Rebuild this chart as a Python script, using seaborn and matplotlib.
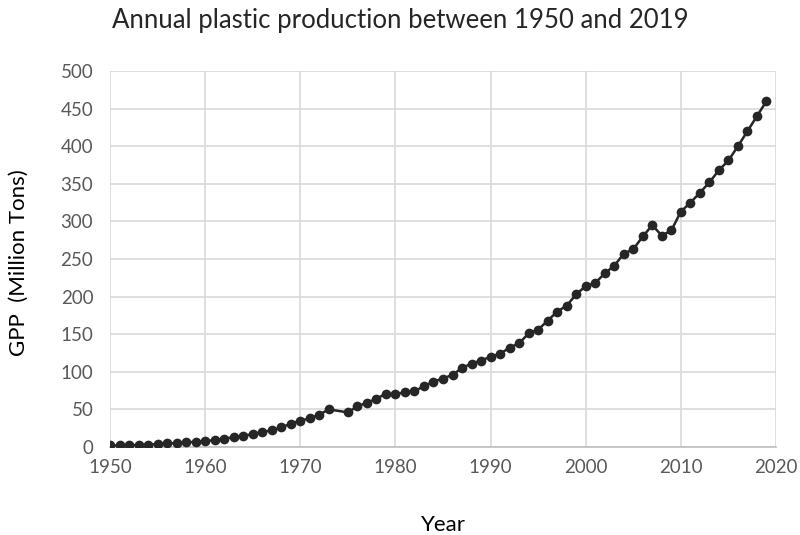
import numpy as np
import pandas as pd
import seaborn as sns
import matplotlib
matplotlib.use("Agg")
import matplotlib.pyplot as plt

# values (1974 has no point)
years = [1950, 1951, 1952, 1953, 1954, 1955, 1956, 1957, 1958, 1959,
         1960, 1961, 1962, 1963, 1964, 1965, 1966, 1967, 1968, 1969,
         1970, 1971, 1972, 1973, 1975, 1976, 1977, 1978, 1979,
         1980, 1981, 1982, 1983, 1984, 1985, 1986, 1987, 1988, 1989,
         1990, 1991, 1992, 1993, 1994, 1995, 1996, 1997, 1998, 1999,
         2000, 2001, 2002, 2003, 2004, 2005, 2006, 2007, 2008, 2009,
         2010, 2011, 2012, 2013, 2014, 2015, 2016, 2017, 2018, 2019]
gpp = [2, 2, 2, 3, 3, 4, 5, 5, 6, 7,
       8, 9, 11, 13, 15, 17, 20, 22, 26, 31,
       35, 38, 43, 50, 46, 54, 59, 64, 71,
       70, 73, 74, 81, 87, 91, 96, 105, 111, 115,
       120, 124, 132, 138, 151, 156, 168, 180, 188, 203,
       214, 218, 231, 241, 257, 263, 280, 295, 281, 288,
       313, 325, 338, 352, 368, 381, 400, 420, 440, 460]

df = pd.DataFrame({"Year": years, "GPP": gpp})

sns.set_style("white")
plt.rcParams['font.family'] = ['Lato', 'DejaVu Sans']

fig = plt.figure(figsize=(8, 5.35), dpi=100)
ax = fig.add_axes([0.1375, 0.1645, 0.8325, 0.7028])

sns.lineplot(data=df, x="Year", y="GPP", ax=ax, color="#262626",
             marker="o", markersize=7, markeredgewidth=0, linewidth=1.8,
             zorder=3)

ax.set_xlim(1950, 2020)
ax.set_ylim(0, 500)
ax.set_xticks(np.arange(1950, 2021, 10))
ax.set_yticks(np.arange(0, 501, 50))
ax.grid(True, color="#d9d9d9", linewidth=1.2)
ax.set_axisbelow(True)
for s in ["top", "right", "left"]:
    ax.spines[s].set_visible(False)
ax.spines["bottom"].set_color("#bfbfbf")
ax.spines["bottom"].set_linewidth(1.2)
ax.tick_params(length=0, labelsize=13.5, colors="#595959")
ax.tick_params(axis="y", pad=12)
ax.tick_params(axis="x", pad=9)

ax.set_xlabel("Year", fontsize=16, color="black", labelpad=28)
ax.set_ylabel("GPP  (Million Tons)", fontsize=16, color="black")
ax.yaxis.set_label_coords(-0.122, 0.49)
fig.suptitle("Annual plastic production between 1950 and 2019", fontsize=18.5,
             x=0.5, y=0.985, va="top")

fig.savefig("out.png", dpi=100)
